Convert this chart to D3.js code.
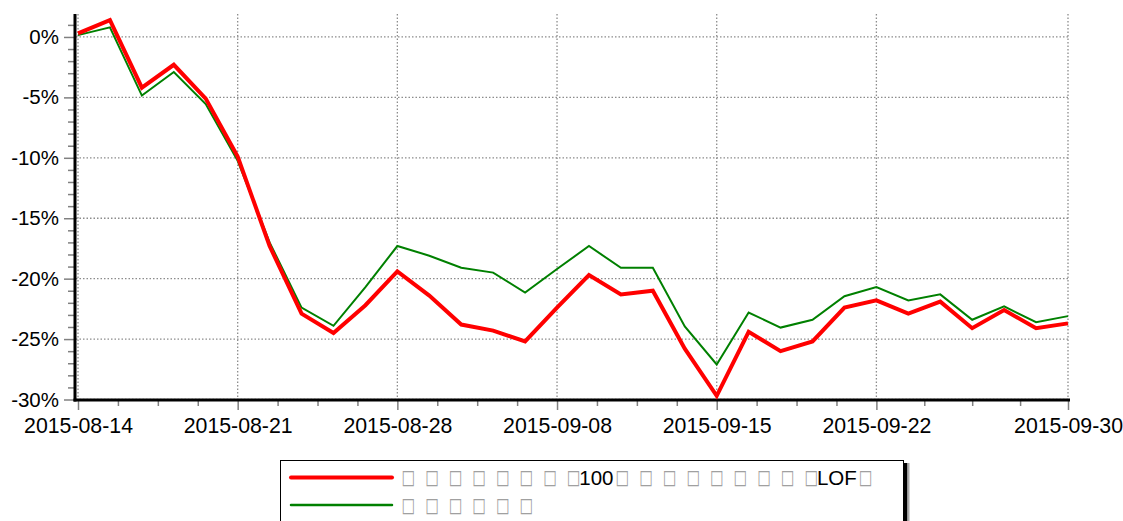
<!DOCTYPE html>
<html>
<head>
<meta charset="utf-8">
<script src="https://cdn.jsdelivr.net/npm/d3@7"></script>
<style>
  html, body { margin: 0; padding: 0; background: #fff; }
  svg { display: block; font-family: "Liberation Sans", Arial, sans-serif; }
</style>
</head>
<body>
<svg id="chart" width="1123" height="521"></svg>
<script>
// trading days shown on the x axis
const dates = [
  '2015-08-14', '2015-08-17', '2015-08-18', '2015-08-19', '2015-08-20', '2015-08-21',
  '2015-08-24', '2015-08-25', '2015-08-26', '2015-08-27', '2015-08-28', '2015-08-31',
  '2015-09-01', '2015-09-02', '2015-09-07', '2015-09-08', '2015-09-09', '2015-09-10',
  '2015-09-11', '2015-09-14', '2015-09-15', '2015-09-16', '2015-09-17', '2015-09-18',
  '2015-09-21', '2015-09-22', '2015-09-23', '2015-09-24', '2015-09-25', '2015-09-28',
  '2015-09-29', '2015-09-30'
];

// cumulative return, percent
const fundReturn = [
  0.3, 1.4, -4.2, -2.3, -5.1, -9.9,
  -17.3, -22.9, -24.5, -22.2, -19.4, -21.4,
  -23.8, -24.3, -25.2, -22.4, -19.7, -21.3,
  -21.0, -25.8, -29.7, -24.4, -26.0, -25.2,
  -22.4, -21.8, -22.9, -21.9, -24.1, -22.6,
  -24.1, -23.7
];
const indexReturn = [
  0.15, 0.8, -4.85, -2.9, -5.55, -10.25,
  -17.0, -22.4, -23.9, -20.7, -17.3, -18.1,
  -19.1, -19.5, -21.15, -19.2, -17.3, -19.1,
  -19.1, -23.95, -27.1, -22.8, -24.05, -23.4,
  -21.45, -20.7, -21.8, -21.3, -23.4, -22.3,
  -23.6, -23.1
];

const xTickDates = ['2015-08-14', '2015-08-21', '2015-08-28', '2015-09-08', '2015-09-15', '2015-09-22', '2015-09-30'];
const yTicks = [-30, -25, -20, -15, -10, -5, 0];

// '□' stands for the glyphs the original chart could not draw
const legendLabels = ['□□□□□□□□100□□□□□□□□□LOF□', '□□□□□□'];

const svg = d3.select('#chart');

const x = d3.scaleLinear().domain([0, dates.length - 1]).range([78, 1068]);
const y = d3.scaleLinear().domain([-30, 1.9]).range([399.5, 14]);

const xPos = d => x(dates.indexOf(d));

// minor x ticks: each major interval split in four
const xMinor = [];
for (let i = 0; i < xTickDates.length - 1; i++) {
  const a = dates.indexOf(xTickDates[i]);
  const b = dates.indexOf(xTickDates[i + 1]);
  for (let k = 1; k < 4; k++) xMinor.push(a + (b - a) * k / 4);
}
const yMinor = d3.range(-29, 2).filter(v => v % 5 !== 0);

// gridlines
const grid = svg.append('g')
  .attr('stroke', '#8c8c8c')
  .attr('stroke-width', 1.3)
  .attr('stroke-dasharray', '1.5,2');

grid.selectAll('.vgrid').data(xTickDates).join('line')
  .attr('x1', xPos).attr('x2', xPos)
  .attr('y1', 14).attr('y2', 399);

grid.selectAll('.hgrid').data(yTicks).join('line')
  .attr('x1', 76).attr('x2', 1070)
  .attr('y1', d => y(d)).attr('y2', d => y(d));

// y axis
const yAxis = svg.append('g')
  .attr('transform', 'translate(75,0)')
  .call(d3.axisLeft(y).tickValues(yTicks).tickSize(11).tickPadding(5)
    .tickFormat(d => d + '%'));
yAxis.select('.domain').remove();
yAxis.selectAll('.tick line').attr('stroke', '#808080').attr('stroke-width', 1.5);
yAxis.selectAll('.tick text')
  .attr('font-size', 20.5)
  .attr('font-family', '"Liberation Sans", Arial, sans-serif')
  .attr('fill', '#000');

svg.append('g')
  .attr('transform', 'translate(75,0)')
  .call(d3.axisLeft(y).tickValues(yMinor).tickSize(7).tickFormat(''))
  .call(g => g.select('.domain').remove())
  .call(g => g.selectAll('.tick line').attr('stroke', '#808080').attr('stroke-width', 1.5));

// x axis
const xAxis = svg.append('g')
  .attr('transform', 'translate(0,400)')
  .call(d3.axisBottom(x).tickValues(xTickDates.map(d => dates.indexOf(d)))
    .tickSize(10).tickPadding(8).tickFormat(i => dates[i]));
xAxis.select('.domain').remove();
xAxis.selectAll('.tick line').attr('stroke', '#808080').attr('stroke-width', 1.5);
xAxis.selectAll('.tick text')
  .attr('font-size', 21.3)
  .attr('font-family', '"Liberation Sans", Arial, sans-serif')
  .attr('fill', '#000');

svg.append('g')
  .attr('transform', 'translate(0,400)')
  .call(d3.axisBottom(x).tickValues(xMinor).tickSize(6).tickFormat(''))
  .call(g => g.select('.domain').remove())
  .call(g => g.selectAll('.tick line').attr('stroke', '#808080').attr('stroke-width', 1.5));

// axis lines
svg.append('line')
  .attr('x1', 75).attr('x2', 75).attr('y1', 14).attr('y2', 401.5)
  .attr('stroke', '#000').attr('stroke-width', 3);
svg.append('line')
  .attr('x1', 73.5).attr('x2', 1070).attr('y1', 400).attr('y2', 400)
  .attr('stroke', '#000').attr('stroke-width', 3);

// series
const line = d3.line().x((d, i) => x(i)).y(d => y(d));

svg.append('path')
  .datum(indexReturn)
  .attr('fill', 'none')
  .attr('stroke', '#008000')
  .attr('stroke-width', 2)
  .attr('d', line);

svg.append('path')
  .datum(fundReturn)
  .attr('fill', 'none')
  .attr('stroke', '#ff0000')
  .attr('stroke-width', 4)
  .attr('stroke-linejoin', 'miter')
  .attr('d', line);

// legend
const legend = svg.append('g');
legend.append('rect')
  .attr('x', 904).attr('y', 463).attr('width', 3.5).attr('height', 70)
  .attr('fill', '#000');
legend.append('rect')
  .attr('x', 907.5).attr('y', 463).attr('width', 2).attr('height', 70)
  .attr('fill', '#aaa');
legend.append('rect')
  .attr('x', 280.5).attr('y', 460.5).attr('width', 623).attr('height', 80)
  .attr('fill', '#fff').attr('stroke', '#000').attr('stroke-width', 1);

const legendColors = ['#ff0000', '#008000'];
const legendWidths = [4, 2.5];
const rowY = [477.5, 505];

legendLabels.forEach((label, r) => {
  legend.append('line')
    .attr('x1', 291).attr('x2', 392)
    .attr('y1', rowY[r]).attr('y2', rowY[r])
    .attr('stroke', legendColors[r])
    .attr('stroke-width', legendWidths[r])
    .attr('stroke-linecap', 'round');

  const row = legend.append('g');
  let cursor = 403;
  const parts = label.match(/□|[^□]+/g);
  parts.forEach(p => {
    if (p === '□') {
      // narrow grey box, squeezed horizontally
      row.append('text')
        .attr('transform', `translate(${cursor},${rowY[r] + 6.5}) scale(0.72,1)`)
        .attr('x', -2)
        .attr('font-family', '"DejaVu Sans", sans-serif')
        .attr('font-size', 20)
        .attr('fill', '#a0a0a0')
        .text(p);
      cursor += 23.6;
    } else {
      const t = row.append('text')
        .attr('x', cursor - 12.5)
        .attr('y', rowY[r] + 7)
        .attr('font-size', 20.5)
        .attr('fill', '#000')
        .text(p);
      cursor += t.node().getComputedTextLength() - 9;
    }
  });
});
</script>
</body>
</html>
